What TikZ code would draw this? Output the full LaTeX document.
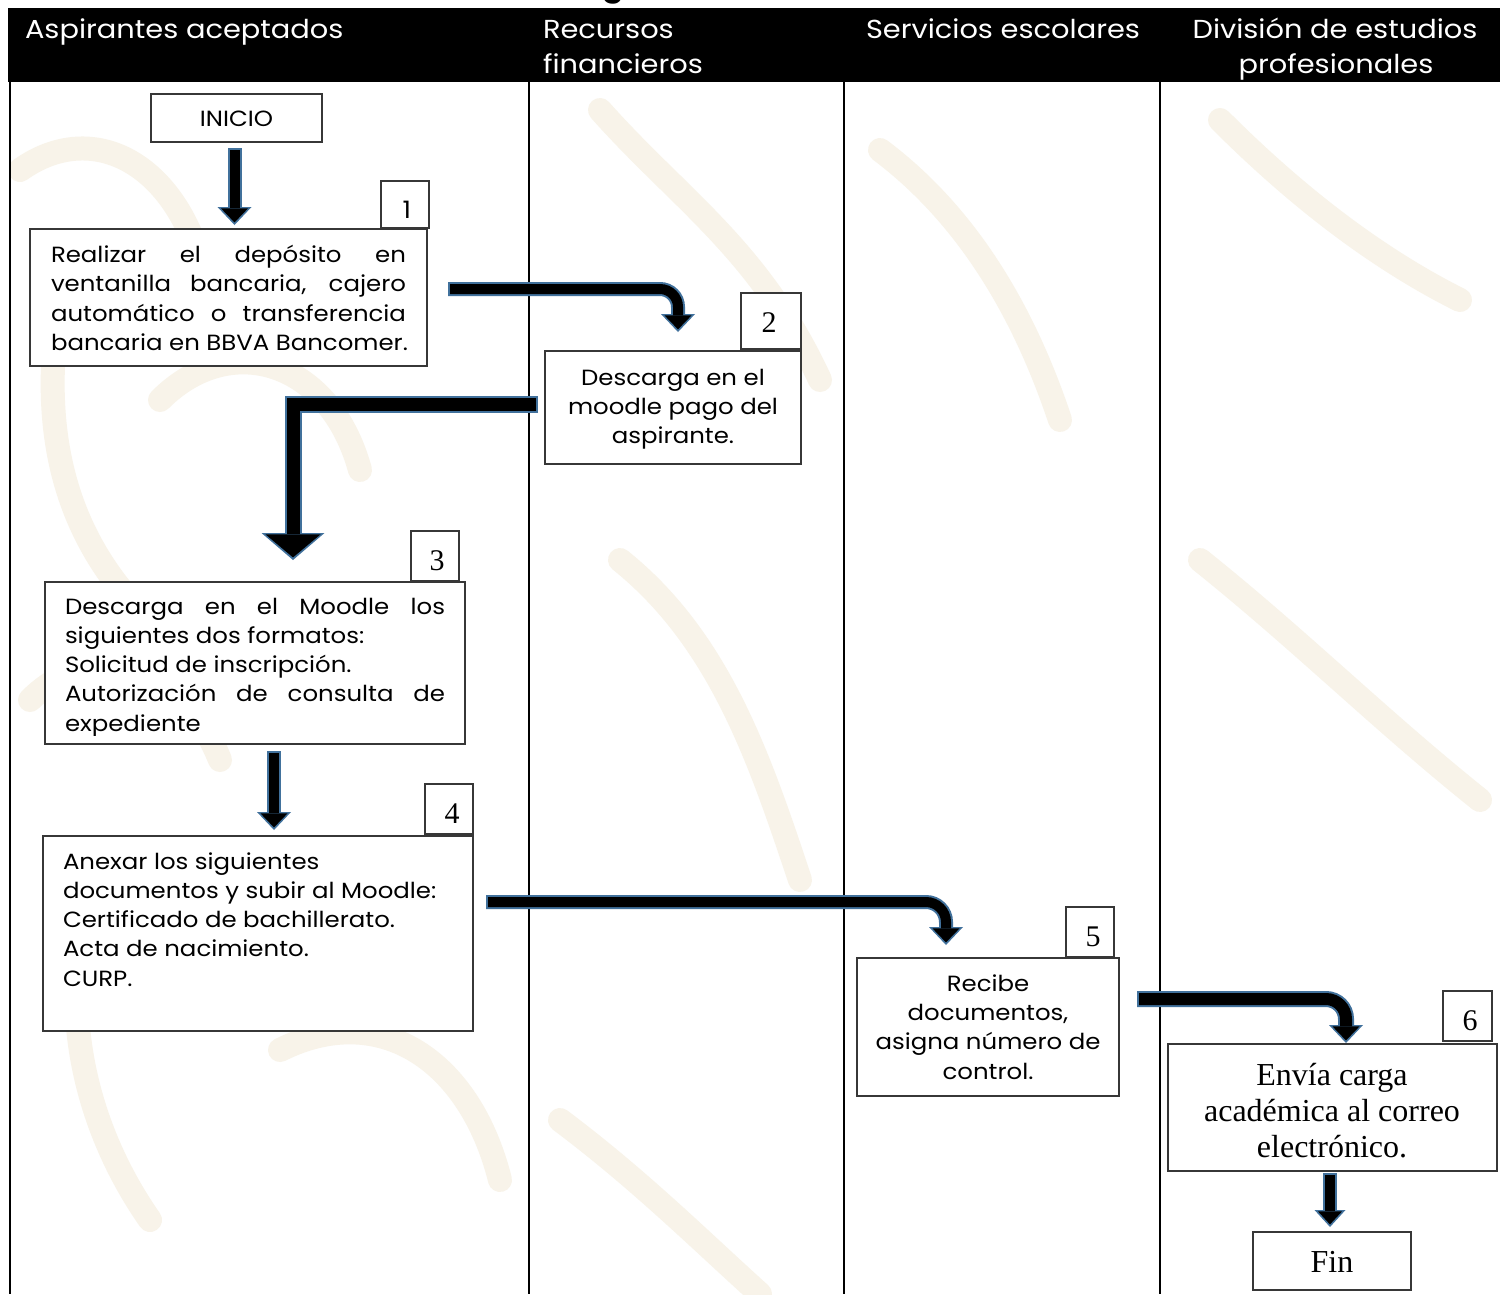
\documentclass[tikz,border=0pt]{standalone}
\usepackage{fontspec}
\setmainfont{Liberation Serif}
\newfontfamily\mont[FakeStretch=1.11]{Poppins}
\usetikzlibrary{arrows.meta,calc}
\definecolor{arrowblue}{RGB}{65,113,156}
\definecolor{boxgray}{RGB}{55,55,55}
\definecolor{wmc}{RGB}{248,243,233}
\begin{document}
\begin{tikzpicture}[x=1pt,y=-1pt,
  box/.style={draw=boxgray, line width=1.4pt, fill=white, anchor=north west, inner sep=0pt, outer sep=0pt},
  txt/.style={font=\mont\fontsize{22}{29}\selectfont, inner sep=0pt, outer sep=0pt},
  hdr/.style={font=\mont\fontsize{26}{35}\selectfont, text=white, inner sep=0pt, outer sep=0pt},
  num/.style={font=\fontsize{30}{30}\selectfont, inner sep=0pt},
  tms/.style={font=\fontsize{32}{36}\selectfont, inner sep=0pt},
  lane/.style={line width=2pt, black},
  wm/.style={wmc, line width=24pt, line cap=round},
  bout/.style={arrowblue, line join=miter, shorten <=-2pt},
  bin/.style={black, line join=miter, shorten >=2.6pt, shorten <=0pt}
]
\useasboundingbox (0,0) rectangle (1500,1294);
\fill[white] (0,0) rectangle (1500,1294);

% cut-off title fragment at the very top
\begin{scope}
\clip (0,0) rectangle (1500,8);
\node[font=\mont\bfseries\fontsize{28}{28}\selectfont, anchor=base, inner sep=0pt] (ttl) at (613,-4) {g};
\end{scope}

% watermark (faint background pattern)
\begin{scope}
\clip (10,82) rectangle (1500,1294);
\draw[wm] (20,170) .. controls (90,120) and (170,160) .. (200,260);
\draw[wm] (60,300) .. controls (40,420) and (60,520) .. (130,600);
\draw[wm] (160,400) .. controls (230,330) and (330,360) .. (360,470);
\draw[wm] (30,700) .. controls (90,640) and (180,660) .. (220,760);
\draw[wm] (90,900) .. controls (60,1000) and (80,1120) .. (150,1220);
\draw[wm] (280,1050) .. controls (380,1000) and (470,1060) .. (500,1180);
\draw[wm] (600,110) .. controls (680,200) and (760,250) .. (820,380);
\draw[wm] (620,560) .. controls (720,640) and (760,760) .. (800,880);
\draw[wm] (560,1120) .. controls (640,1180) and (700,1240) .. (760,1294);
\draw[wm] (880,150) .. controls (960,210) and (1020,300) .. (1060,420);
\draw[wm] (1220,120) .. controls (1300,200) and (1380,260) .. (1460,300);
\draw[wm] (1200,560) .. controls (1300,640) and (1380,720) .. (1480,800);
\end{scope}

% header
\fill[black] (8,8) rectangle (1500,82);
\node[hdr, anchor=base west] (h1) at (25,38) {Aspirantes aceptados};
\node[hdr, anchor=base west] (h2a) at (543,38) {Recursos};
\node[hdr, anchor=base west] (h2b) at (543,73) {financieros};
\node[hdr, anchor=base west] (h3) at (866,38) {Servicios escolares};
\node[hdr, anchor=base] (h4a) at (1335,38) {División de estudios};
\node[hdr, anchor=base] (h4b) at (1336,73) {profesionales};

% lanes
\draw[lane] (10,82) -- (10,1294);
\draw[lane] (529,82) -- (529,1294);
\draw[lane] (844,82) -- (844,1294);
\draw[lane] (1160,82) -- (1160,1294);

% INICIO
\node[box, minimum width=171pt, minimum height=48pt] (inicio) at (151,94) {};
\node[txt, anchor=base] (inicioT) at (236.5,126) {INICIO};

% step 1
\node[box, minimum width=48pt, minimum height=47pt] (n1) at (381,181) {};
\node[txt, font=\mont\fontsize{24}{24}\selectfont, anchor=base] (n1T) at (407,218) {1};
\node[box, minimum width=397pt, minimum height=137pt] (s1) at (30,229) {};
\node[txt, anchor=base west] (t1a) at (51,262) {\makebox[355pt][s]{Realizar el depósito en}};
\node[txt, anchor=base west] (t1b) at (51,291) {\makebox[355pt][s]{ventanilla bancaria, cajero}};
\node[txt, anchor=base west] (t1c) at (51,321) {\makebox[355pt][s]{automático o transferencia}};
\node[txt, anchor=base west] (t1d) at (51,350) {bancaria en BBVA Bancomer.};

% step 2
\node[box, minimum width=60pt, minimum height=56pt] (n2) at (741,293) {};
\node[num, anchor=base] (n2T) at (769,332) {2};
\node[box, minimum width=256pt, minimum height=113pt] (s2) at (545,351) {};
\node[txt, anchor=base] (t2a) at (673,385) {Descarga en el};
\node[txt, anchor=base] (t2b) at (673,414) {moodle pago del};
\node[txt, anchor=base] (t2c) at (673,443) {aspirante.};

% step 3
\node[box, minimum width=48pt, minimum height=50pt] (n3) at (411,531) {};
\node[num, anchor=base] (n3T) at (437,570) {3};
\node[box, minimum width=420pt, minimum height=162pt] (s3) at (45,582) {};
\begin{scope}
\clip (45,582) rectangle (465,735);
\node[txt, anchor=base west] (t3a) at (65,614) {\makebox[380pt][s]{Descarga en el Moodle los}};
\node[txt, anchor=base west] (t3b) at (65,643) {siguientes dos formatos:};
\node[txt, anchor=base west] (t3c) at (65,672) {Solicitud de inscripción.};
\node[txt, anchor=base west] (t3d) at (65,701) {\makebox[380pt][s]{Autorización de consulta de}};
\node[txt, anchor=base west] (t3e) at (65,731) {expediente};
\end{scope}

% step 4
\node[box, minimum width=48pt, minimum height=50pt] (n4) at (425,784) {};
\node[num, anchor=base] (n4T) at (452,823) {4};
\node[box, minimum width=430pt, minimum height=195pt] (s4) at (43,836) {};
\node[txt, anchor=base west] (t4a) at (63,869) {Anexar los siguientes};
\node[txt, anchor=base west] (t4b) at (63,898) {documentos y subir al Moodle:};
\node[txt, anchor=base west] (t4c) at (63,927) {Certificado de bachillerato.};
\node[txt, anchor=base west] (t4d) at (63,956) {Acta de nacimiento.};
\node[txt, anchor=base west] (t4e) at (63,986) {CURP.};

% step 5
\node[box, minimum width=48pt, minimum height=50pt] (n5) at (1066,907) {};
\node[num, anchor=base] (n5T) at (1093,946) {5};
\node[box, minimum width=262pt, minimum height=138pt] (s5) at (857,958) {};
\node[txt, anchor=base] (t5a) at (988,991) {Recibe};
\node[txt, anchor=base] (t5b) at (988,1020) {documentos,};
\node[txt, anchor=base] (t5c) at (988,1049) {asigna número de};
\node[txt, anchor=base] (t5d) at (988,1079) {control.};

% step 6
\node[box, minimum width=49pt, minimum height=50pt] (n6) at (1443,991) {};
\node[num, anchor=base] (n6T) at (1470,1030) {6};
\node[box, minimum width=329pt, minimum height=127pt] (s6) at (1168,1044) {};
\node[tms, anchor=base] (t6a) at (1332,1085) {Envía carga};
\node[tms, anchor=base] (t6b) at (1332,1121) {académica al correo};
\node[tms, anchor=base] (t6c) at (1332,1157) {electrónico.};

% Fin
\node[box, minimum width=158pt, minimum height=58pt] (fin) at (1253,1232) {};
\node[tms, anchor=base] (finT) at (1332,1272) {Fin};

% arrows (outline pass + fill pass)
% INICIO -> 1
\draw[bout, line width=14pt, -{Triangle[width=34pt,length=18pt,line width=0pt]}]
  ($(inicio.south)+(-2,8)$) -- ($(inicio.south |- s1.north)+(-2,-4)$);
\draw[bin, line width=10pt, -{Triangle[width=27pt,length=14pt,line width=0pt]}]
  ($(inicio.south)+(-2,8)$) -- ($(inicio.south |- s1.north)+(-2,-4)$);
% 1 -> 2
\draw[bout, line width=14pt, rounded corners=18pt, -{Triangle[width=34pt,length=18pt,line width=0pt]}]
  ($(s1.east)+(23,-8.5)$) -| ($(s2.north)+(5,-19)$);
\draw[bin, line width=10pt, rounded corners=18pt, -{Triangle[width=27pt,length=14pt,line width=0pt]}]
  ($(s1.east)+(23,-8.5)$) -| ($(s2.north)+(5,-19)$);
% 2 -> 3
\draw[bout, line width=17pt, -{Triangle[width=63pt,length=27pt,line width=0pt]}]
  ($(s2.west)+(-9,-3.5)$) -| ($(s3.north)+(38,-22)$);
\draw[bin, line width=13pt, -{Triangle[width=55pt,length=23pt,line width=0pt]}]
  ($(s2.west)+(-9,-3.5)$) -| ($(s3.north)+(38,-22)$);
% 3 -> 4
\draw[bout, line width=14pt, -{Triangle[width=34pt,length=18pt,line width=0pt]}]
  ($(s3.south)+(19,9)$) -- ($(s4.north)+(16,-6)$);
\draw[bin, line width=10pt, -{Triangle[width=27pt,length=14pt,line width=0pt]}]
  ($(s3.south)+(19,9)$) -- ($(s4.north)+(16,-6)$);
% 4 -> 5
\draw[bout, line width=14pt, rounded corners=20pt, -{Triangle[width=34pt,length=18pt,line width=0pt]}]
  ($(s4.east)+(15,-31.5)$) -| ($(s5.north)+(-42,-13)$);
\draw[bin, line width=10pt, rounded corners=20pt, -{Triangle[width=27pt,length=14pt,line width=0pt]}]
  ($(s4.east)+(15,-31.5)$) -| ($(s5.north)+(-42,-13)$);
% 5 -> 6
\draw[bout, line width=16pt, rounded corners=20pt, -{Triangle[width=34pt,length=18pt,line width=0pt]}]
  ($(s5.east)+(20,-28)$) -| ($(s6.north)+(13.5,-1)$);
\draw[bin, line width=12pt, rounded corners=20pt, -{Triangle[width=27pt,length=14pt,line width=0pt]}]
  ($(s5.east)+(20,-28)$) -| ($(s6.north)+(13.5,-1)$);
% 6 -> Fin
\draw[bout, line width=14pt, -{Triangle[width=31pt,length=17pt,line width=0pt]}]
  ($(s6.south)+(-2.5,4)$) -- ($(fin.north)+(-2,-5)$);
\draw[bin, line width=10pt, -{Triangle[width=24pt,length=13pt,line width=0pt]}]
  ($(s6.south)+(-2.5,4)$) -- ($(fin.north)+(-2,-5)$);
\end{tikzpicture}
\end{document}
